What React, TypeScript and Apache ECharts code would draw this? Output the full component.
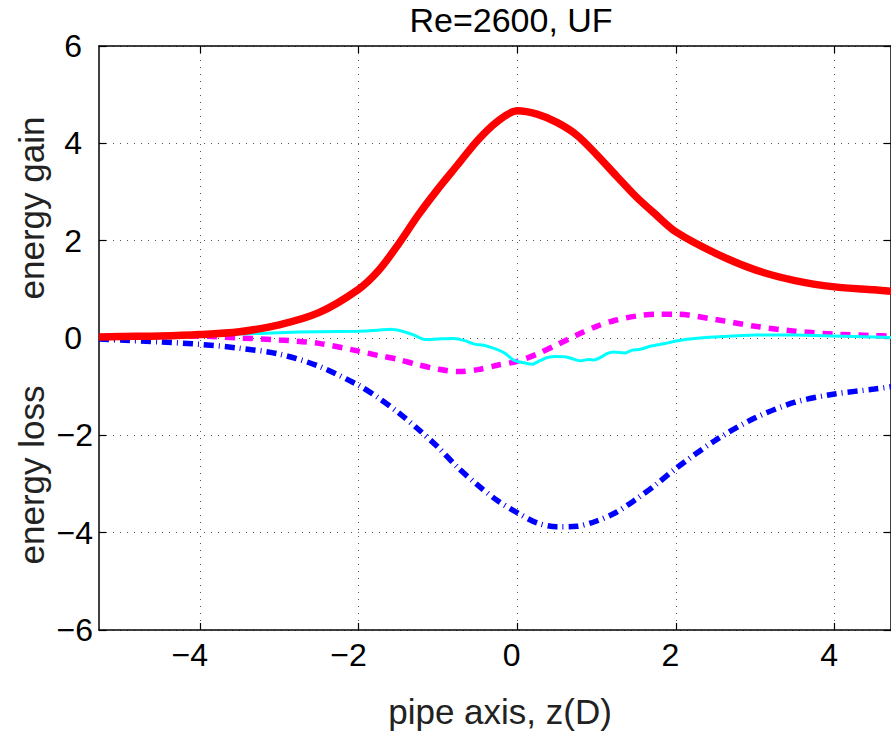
import React, { useEffect, useRef } from "react";
import * as echarts from "echarts";

// ---- data ----
const titleText = "Re=2600, UF";
const xLabelText = "pipe axis, z(D)";
const yLabelGain = "energy gain";
const yLabelLoss = "energy loss";

const xTicks = [-4, -2, 0, 2, 4];
const yTicks = [-6, -4, -2, 0, 2, 4, 6];

const zGrid = [-5.27, -5, -4.5, -4, -3.5, -3, -2.5, -2, -1.75, -1.5, -1.25, -1, -0.75, -0.5, -0.25, 0, 0.25, 0.5, 0.75, 1, 1.25, 1.5, 1.75, 2, 2.5, 3, 3.5, 4, 4.5, 4.72];

const redGain = [0.02, 0.03, 0.04, 0.07, 0.13, 0.27, 0.52, 1.0, 1.38, 1.92, 2.52, 3.06, 3.56, 4.06, 4.45, 4.67, 4.6, 4.43, 4.17, 3.77, 3.33, 2.9, 2.53, 2.18, 1.74, 1.4, 1.18, 1.05, 0.99, 0.96];

const magentaTerm = [0.03, 0.03, 0.04, 0.04, 0.0, -0.04, -0.11, -0.27, -0.36, -0.44, -0.55, -0.64, -0.69, -0.65, -0.56, -0.48, -0.33, -0.14, 0.06, 0.24, 0.37, 0.45, 0.49, 0.49, 0.38, 0.24, 0.14, 0.08, 0.05, 0.04];

const blueLoss = [-0.02, -0.04, -0.08, -0.13, -0.21, -0.33, -0.58, -0.97, -1.23, -1.53, -1.87, -2.24, -2.66, -3.02, -3.34, -3.59, -3.8, -3.88, -3.87, -3.76, -3.58, -3.31, -3.01, -2.68, -2.1, -1.64, -1.32, -1.15, -1.05, -1.0];

const cyanZ = [-5.27, -4.5, -4, -3.5, -3, -2.5, -2, -1.75, -1.6, -1.45, -1.3, -1.17, -1.0, -0.8, -0.65, -0.55, -0.4, -0.25, -0.15, -0.05, 0.05, 0.19, 0.28, 0.38, 0.5, 0.62, 0.72, 0.8, 0.9, 0.97, 1.05, 1.13, 1.22, 1.35, 1.45, 1.55, 1.7, 1.85, 2.0, 2.3, 2.6, 3.0, 3.5, 4.0, 4.5, 4.72];
const cyanTerm = [0.02, 0.04, 0.06, 0.08, 0.11, 0.13, 0.14, 0.16, 0.18, 0.14, 0.06, -0.03, -0.02, -0.01, -0.06, -0.12, -0.16, -0.24, -0.32, -0.45, -0.5, -0.54, -0.47, -0.4, -0.38, -0.39, -0.44, -0.47, -0.44, -0.45, -0.4, -0.32, -0.29, -0.31, -0.25, -0.23, -0.16, -0.12, -0.06, 0.0, 0.03, 0.06, 0.06, 0.04, 0.02, 0.01];

const X_MIN = -5.27;
const X_MAX = 4.71;

const pair = (xs: number[], ys: number[]) => xs.map((x, i) => [x, ys[i]]);
const fmtRich = (v: number) => (v < 0 ? `{neg|\u2212${Math.abs(v)}}` : `{pos|${v}}`);

const FONT = "'Liberation Sans', Arial, Helvetica, sans-serif";

export default function App() {
  const ref = useRef<HTMLDivElement>(null);
  useEffect(() => {
    if (!ref.current) return;
    const chart = echarts.init(ref.current, null, { renderer: "svg" });
    const gridLine = { show: true, lineStyle: { color: "#555", width: 1, type: [1, 6] as any } };
    const axisLine = { show: true, onZero: false, lineStyle: { color: "#000", width: 1.5 } };
    const tickFont = { color: "#000", fontSize: 32, fontFamily: FONT };
    chart.setOption({
      animation: false,
      backgroundColor: "#fff",
      grid: { left: 99, top: 46, width: 793, height: 584, containLabel: false },
      xAxis: [
        {
          type: "value", min: X_MIN, max: X_MAX, position: "bottom",
          axisLine,
          axisTick: { show: true, inside: true, length: 7, customValues: xTicks, lineStyle: { color: "#000", width: 1.2 } },
          axisLabel: {
            show: true, customValues: xTicks, formatter: fmtRich, margin: 9, ...tickFont,
            rich: { neg: { ...tickFont, padding: [0, 20, 0, 0] }, pos: { ...tickFont, padding: [0, 11, 0, 0] } },
          },
          splitLine: gridLine,
        },
        {
          type: "value", min: X_MIN, max: X_MAX, position: "top",
          axisLine,
          axisTick: { show: true, inside: true, length: 7, customValues: xTicks, lineStyle: { color: "#000", width: 1.2 } },
          axisLabel: { show: false },
          splitLine: { show: false },
        },
      ],
      yAxis: [
        {
          type: "value", min: yTicks[0], max: yTicks[yTicks.length - 1], interval: 2, position: "left",
          axisLine,
          axisTick: { show: true, inside: true, length: 7, lineStyle: { color: "#000", width: 1.2 } },
          axisLabel: {
            show: true, formatter: fmtRich, margin: 6, ...tickFont,
            rich: { neg: { ...tickFont, padding: [0, 0, 0, 0] }, pos: { ...tickFont, padding: [0, 11, 0, 0] } },
          },
          splitLine: gridLine,
        },
        {
          type: "value", min: yTicks[0], max: yTicks[yTicks.length - 1], interval: 2, position: "right",
          axisLine,
          axisTick: { show: true, inside: true, length: 7, lineStyle: { color: "#000", width: 1.2 } },
          axisLabel: { show: false },
          splitLine: { show: false },
        },
      ],
      graphic: [
        { type: "text", x: 511, y: 20, style: { text: titleText, font: `34px ${FONT}`, fill: "#000", align: "center", verticalAlign: "middle" } },
        { type: "text", x: 500, y: 711, style: { text: xLabelText, font: `35px ${FONT}`, fill: "#222", align: "center", verticalAlign: "middle" } },
        { type: "text", x: 31, y: 208, rotation: Math.PI / 2, style: { text: yLabelGain, font: `35px ${FONT}`, fill: "#222", align: "center", verticalAlign: "middle" } },
        { type: "text", x: 31, y: 475, rotation: Math.PI / 2, style: { text: yLabelLoss, font: `35px ${FONT}`, fill: "#222", align: "center", verticalAlign: "middle" } },
      ],
      series: [
        { type: "line", name: "gain", data: pair(zGrid, redGain), symbol: "none", smooth: 0.3, lineStyle: { color: "#ff0000", width: 7.5 }, z: 3 },
        { type: "line", name: "term2", data: pair(zGrid, magentaTerm), symbol: "none", smooth: 0.3, lineStyle: { color: "#ff00ff", width: 5.5, type: [10, 8] }, z: 2 },
        { type: "line", name: "term3", data: pair(cyanZ, cyanTerm), symbol: "none", smooth: 0.2, lineStyle: { color: "#00ffff", width: 3 }, z: 2 },
        { type: "line", name: "loss", data: pair(zGrid, blueLoss), symbol: "none", smooth: 0.3, lineStyle: { color: "#0000ff", width: 5.5, type: [10, 5, 1, 5] }, z: 2 },
      ],
    });
    return () => chart.dispose();
  }, []);
  return <div ref={ref} style={{ position: "fixed", left: 0, top: 0, width: 891, height: 732, background: "#fff" }} />;
}
